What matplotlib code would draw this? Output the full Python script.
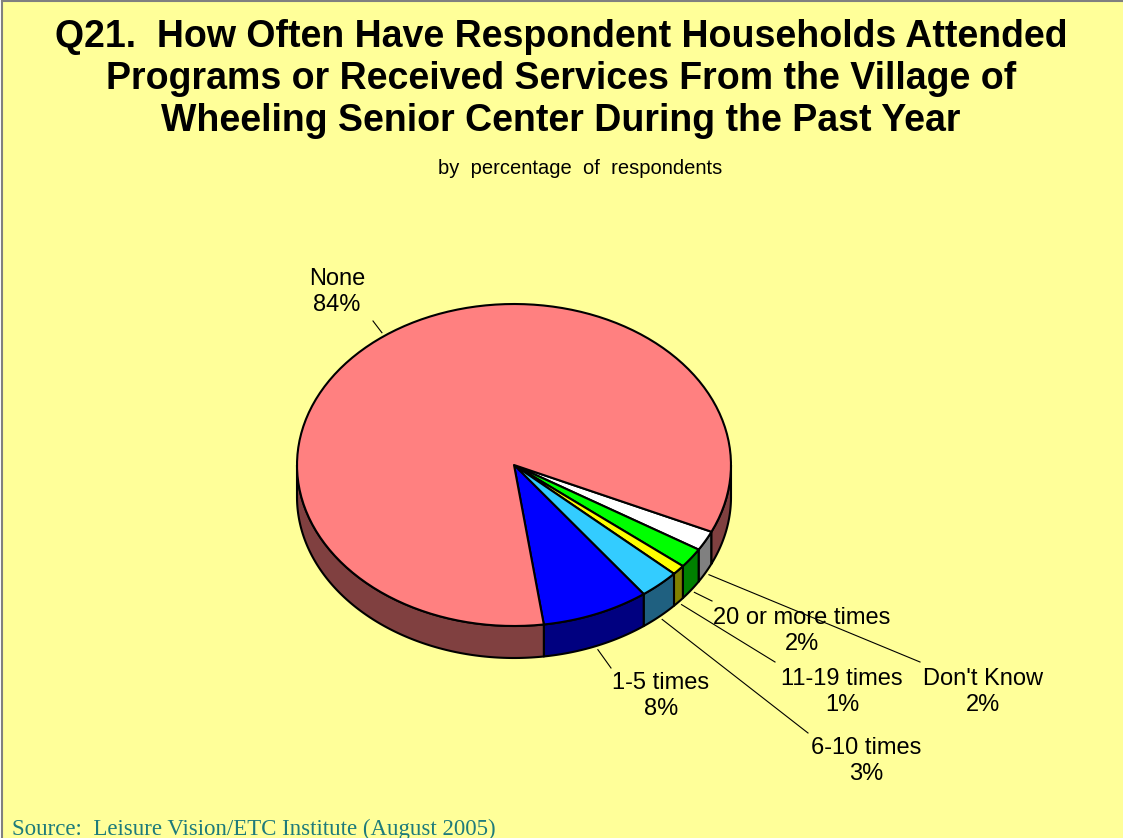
import numpy as np
import matplotlib.pyplot as plt
from matplotlib.patches import Polygon

# ==== DATA ====
labels = ["Don't Know", "20 or more times", "11-19 times", "6-10 times", "1-5 times", "None"]
values = [2, 2, 1, 3, 8, 84]
top_colors = ["#FFFFFF", "#00FF00", "#FFFF00", "#33CCFF", "#0000FF", "#FF8080"]
side_colors = ["#808080", "#008000", "#808000", "#1F6080", "#000080", "#804040"]

title = ("Q21.  How Often Have Respondent Households Attended\n"
         "Programs or Received Services From the Village of\n"
         "Wheeling Senior Center During the Past Year")
subtitle = "by  percentage  of  respondents"
source = "Source:  Leisure Vision/ETC Institute (August 2005)"

# ==== LAYOUT (pixels) ====
W, H = 1123, 838
CX, CY = 514, 465       # pie centre
RX, RY = 217, 161       # ellipse radii of the top face
DEPTH = 32              # thickness of the pie
START = 24.5            # screen angle (deg, clockwise from +x) of first slice
BG = "#FFFF99"

# text centres and leader-line ends for each label
label_pos = {
    "Don't Know": (983, 692),
    "20 or more times": (802, 631),
    "11-19 times": (842, 692),
    "6-10 times": (866, 761),
    "1-5 times": (661, 696),
    "None": (337, 292),
}
leader_end = {
    "Don't Know": (920, 662),
    "20 or more times": (712, 601),
    "11-19 times": (775, 662),
    "6-10 times": (808, 733),
    "1-5 times": (611, 668),
    "None": (373, 321),
}

plt.rcParams['font.family'] = ['Liberation Sans', 'DejaVu Sans']

fig = plt.figure(figsize=(W / 100, H / 100), dpi=100, facecolor="white")
ax = fig.add_axes([0, 0, 1, 1])
ax.set_xlim(0, W)
ax.set_ylim(H, 0)
ax.axis("off")

# background panel with a grey frame on top/left
ax.add_patch(plt.Rectangle((2, 1.5), W, H, facecolor=BG, edgecolor="none", zorder=0))
ax.plot([2, 2], [1.5, H], color="#808080", lw=1.5, zorder=1)
ax.plot([2, W], [1.5, 1.5], color="#808080", lw=1.5, zorder=1)


def rim(t0, t1, dy=0, n=120):
    t = np.radians(np.linspace(t0, t1, n))
    return np.column_stack([CX + RX * np.cos(t), CY + RY * np.sin(t) + dy])


# slice angles
fracs = np.array(values, dtype=float) / sum(values)
edges = START + np.concatenate([[0], np.cumsum(fracs)]) * 360

# sides: only the front half (screen angles 0..180) is visible
for i in range(len(values)):
    t0, t1 = edges[i], edges[i + 1]
    for shift in (0, -360, 360):
        a, b = max(t0 + shift, 0), min(t1 + shift, 180)
        if b <= a:
            continue
        top = rim(a, b)
        bot = rim(b, a, DEPTH)
        ax.add_patch(Polygon(np.vstack([top, bot]), closed=True,
                             facecolor=side_colors[i], edgecolor="black",
                             lw=1.5, joinstyle="round", zorder=2))

# top faces
for i in range(len(values)):
    pts = np.vstack([[CX, CY], rim(edges[i], edges[i + 1]), [CX, CY]])
    ax.add_patch(Polygon(pts, closed=True, facecolor=top_colors[i],
                         edgecolor="black", lw=1.5, joinstyle="round", zorder=3))

# labels with leader lines
for i, name in enumerate(labels):
    mid = np.radians((edges[i] + edges[i + 1]) / 2)
    dy = DEPTH if np.sin(mid) > 0 else 0
    sx = CX + (RX + 4) * np.cos(mid)
    sy = CY + (RY + 4) * np.sin(mid) + dy
    ex, ey = leader_end[name]
    ax.plot([sx, ex], [sy, ey], color="black", lw=0.8, zorder=4)
    tx, ty = label_pos[name]
    ax.text(tx, ty, f"{name}\n{values[i]}%", ha="center", va="center",
            fontsize=17, linespacing=1.27, zorder=5)

ax.text(561, 79, title, ha="center", va="center", fontsize=27,
        fontweight="bold", linespacing=1.23, zorder=5)
ax.text(580, 168, subtitle, ha="center", va="center", fontsize=14.5, zorder=5)
ax.text(12, 829, source, ha="left", va="center", fontsize=16.5,
        family="Liberation Serif", color="#1E7B7B", zorder=5)

fig.savefig("out.png", dpi=100, facecolor="white")
